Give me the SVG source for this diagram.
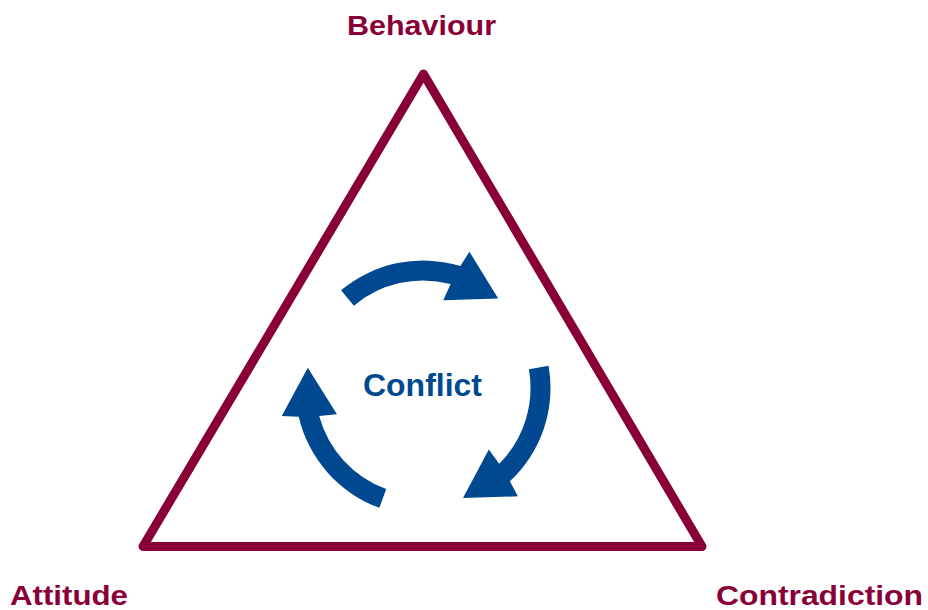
<svg xmlns="http://www.w3.org/2000/svg" xmlns:xlink="http://www.w3.org/1999/xlink" width="928" height="610" viewBox="0 0 928 610">
  <style>
    .lbl { font-family: "Liberation Sans", Arial, Helvetica, sans-serif; font-weight: bold; font-size: 28px; fill: #890038; }
    .center { font-family: "Liberation Sans", Arial, Helvetica, sans-serif; font-weight: bold; font-size: 31px; fill: #004990; }
    .tri { fill: none; stroke: #890038; stroke-width: 9; stroke-linejoin: round; }
    .arw { fill: #004990; }
  </style>
  <defs>
    <path id="arrow" class="arw" d="M -81.96,-97.67 A 127.5 127.5 0 0 1 37.33,-121.92 L 46.41,-136.31 L 75.2,-89.6 L 20.25,-87.69 L 27.61,-103.90 A 107.5 107.5 0 0 0 -69.10,-82.35 Z"/>
  </defs>
  <rect width="928" height="610" fill="#ffffff"/>
  <g id="triangle">
    <polygon class="tri" points="423.5,74 143,546.5 702,546.5"/>
  </g>
  <g id="connectors">
    <use xlink:href="#arrow" href="#arrow" transform="translate(423,388)"/>
    <use xlink:href="#arrow" href="#arrow" transform="translate(423,388) rotate(120)"/>
    <use xlink:href="#arrow" href="#arrow" transform="translate(423,388) rotate(240)"/>
  </g>
  <g id="node-behaviour">
    <text class="lbl" x="347" y="35" textLength="149" lengthAdjust="spacingAndGlyphs">Behaviour</text>
  </g>
  <g id="node-attitude">
    <text class="lbl" x="10" y="604.5" textLength="118" lengthAdjust="spacingAndGlyphs">Attitude</text>
  </g>
  <g id="node-contradiction">
    <text class="lbl" x="716" y="605" textLength="207" lengthAdjust="spacingAndGlyphs">Contradiction</text>
  </g>
  <g id="node-conflict">
    <text class="center" x="363" y="396" textLength="119" lengthAdjust="spacingAndGlyphs">Conflict</text>
  </g>
</svg>
